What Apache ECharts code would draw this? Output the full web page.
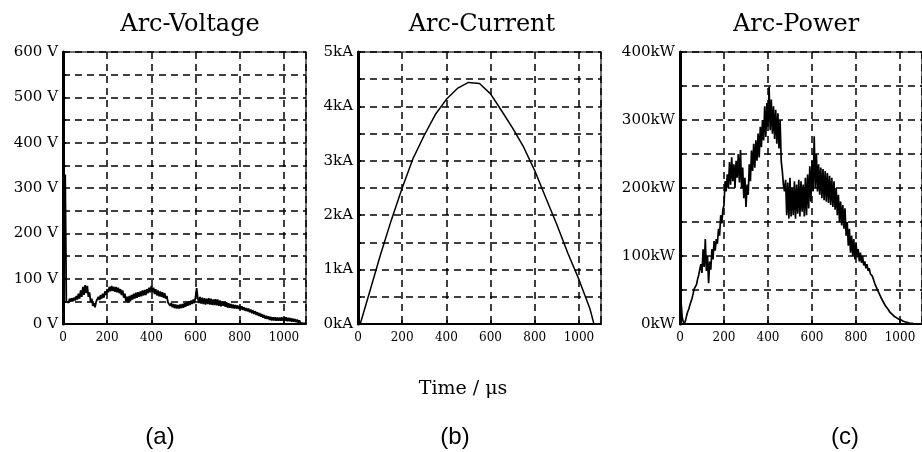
<!DOCTYPE html>
<html>
<head>
<meta charset="utf-8">
<script src="https://cdn.jsdelivr.net/npm/echarts@6/dist/echarts.min.js"></script>
<style>
  html, body { margin: 0; padding: 0; background: #fff; }
  #main { width: 922px; height: 452px; }
</style>
</head>
<body>
<div id="main"></div>
<script>
// sample spacing of the noisy traces (us)
var sampleStep = 5;

// Arc voltage (V), one value every 5 us from 0 to 1100 us
var voltage = [
  50, 200, 330, 50, 53, 47, 56, 49, 57, 50, 58, 52, 62, 54, 67, 56, 74, 60, 82, 64,
  86, 68, 84, 60, 70, 48, 56, 40, 46, 37, 49, 50, 60, 53, 64, 56, 67, 58, 72, 64,
  77, 70, 82, 72, 84, 73, 82, 71, 82, 70, 80, 68, 77, 64, 74, 58, 67, 50, 60, 48,
  62, 50, 64, 54, 67, 56, 69, 58, 70, 60, 72, 61, 74, 63, 75, 64, 77, 68, 80, 70,
  84, 70, 80, 66, 77, 63, 74, 61, 72, 60, 70, 58, 68, 56, 62, 48, 50, 40, 46, 37,
  44, 35, 43, 34, 42, 34, 43, 35, 44, 36, 46, 38, 49, 40, 50, 42, 52, 44, 54, 46,
  60, 79, 57, 46, 60, 45, 58, 44, 57, 43, 56, 44, 57, 43, 56, 42, 54, 42, 55, 41,
  54, 40, 52, 39, 50, 40, 49, 38, 48, 36, 46, 36, 44, 35, 43, 34, 42, 34, 41, 33,
  40, 32, 39, 31, 37, 29, 35, 28, 34, 26, 32, 24, 30, 22, 28, 20, 26, 18, 24, 16,
  22, 14, 20, 12, 18, 11, 17, 9, 16, 8, 15, 8, 15, 7, 14, 7, 14, 7, 15, 7,
  14, 7, 15, 6, 14, 6, 13, 5, 12, 5, 11, 4, 10, 3, 8, 2, 6, 2, 4, 1,
  3
];

// Arc current (kA) at read-off times (us)
var currentTime = [0, 10, 50, 100, 150, 200, 250, 300, 350, 400, 450, 500, 550, 600, 650, 700, 750, 800, 850, 900, 950, 1000, 1050, 1068, 1100];
var currentKA   = [0, 0, 0.55, 1.25, 1.9, 2.5, 3.05, 3.47, 3.85, 4.13, 4.33, 4.44, 4.42, 4.23, 3.92, 3.6, 3.25, 2.82, 2.32, 1.83, 1.3, 0.82, 0.28, 0, 0];

// Arc power (kW), one value every 5 us from 0 to 1100 us
var power = [
  0, 32, 10, 3, 0, 5, 12, 18, 22, 28, 33, 38, 45, 52, 50, 58, 66, 72, 70, 88,
  75, 110, 84, 125, 78, 100, 60, 92, 80, 110, 95, 122, 108, 125, 118, 140, 130, 160, 148, 168,
  175, 210, 195, 220, 200, 238, 205, 245, 210, 235, 200, 240, 215, 250, 208, 256, 200, 230, 185, 215,
  172, 205, 190, 235, 210, 255, 225, 265, 230, 270, 240, 280, 245, 290, 260, 300, 270, 320, 275, 325,
  290, 349, 285, 330, 280, 320, 272, 315, 265, 310, 258, 300, 240, 225, 205, 195, 212, 160, 208, 155,
  215, 158, 200, 160, 210, 155, 205, 162, 212, 158, 210, 165, 205, 158, 215, 160, 220, 170, 232, 180,
  240, 195, 276, 200, 250, 195, 235, 190, 230, 185, 228, 182, 225, 180, 222, 178, 218, 175, 215, 172,
  210, 168, 200, 160, 190, 150, 180, 145, 175, 140, 170, 130, 150, 115, 140, 105, 130, 100, 125, 95,
  120, 98, 110, 92, 105, 90, 100, 86, 92, 82, 88, 78, 82, 74, 76, 70, 68, 60, 62, 52,
  52, 45, 45, 38, 40, 32, 34, 26, 28, 22, 22, 17, 18, 14, 14, 11, 11, 9, 9, 7,
  8, 6, 6, 4, 5, 3, 4, 2, 3, 1, 2, 1, 1, 0, 0, 0, 0, 0, 0, 0,
  0
];

// tick labels
var timeTicks = ['0', '200', '400', '600', '800', '1000'];
var voltTicks = ['0 V', '100 V', '200 V', '300 V', '400 V', '500 V', '600 V'];
var currTicks = ['0kA', '1kA', '2kA', '3kA', '4kA', '5kA'];
var powTicks  = ['0kW', '100kW', '200kW', '300kW', '400kW'];

var titles = ['Arc-Voltage', 'Arc-Current', 'Arc-Power'];
var panelTags = ['(a)', '(b)', '(c)'];

function toPairs(vals) {
  var out = [];
  for (var i = 0; i < vals.length; i++) out.push([i * sampleStep, vals[i]]);
  return out;
}
function zip(xs, ys) {
  var out = [];
  for (var i = 0; i < xs.length; i++) out.push([xs[i], ys[i]]);
  return out;
}

var serif = 'DejaVu Serif';
var dash = [7, 5];

function makeX(idx) {
  return {
    type: 'value', gridIndex: idx, min: 0, max: 1100, interval: 200,
    axisLine: { lineStyle: { color: '#000', width: 2 } },
    axisTick: { inside: true, length: 4, lineStyle: { color: '#000', width: 1.5 } },
    axisLabel: {
      color: '#000', fontFamily: serif, fontSize: 12, margin: 8, showMaxLabel: false,
      formatter: function (v) { return v % 200 === 0 && v <= 1000 ? timeTicks[v / 200] : ''; }
    },
    splitLine: { show: true, lineStyle: { color: '#000', width: 1.5, type: dash } }
  };
}
function makeY(idx, max, step, labels, labelStep) {
  return {
    type: 'value', gridIndex: idx, min: 0, max: max, interval: step,
    axisLine: { show: true, lineStyle: { color: '#000', width: 3 } },
    axisTick: { show: true, inside: true, length: 3, lineStyle: { color: '#000', width: 2 } },
    axisLabel: {
      color: '#000', fontFamily: serif, fontSize: 15, margin: 5,
      formatter: function (v) {
        var k = v / labelStep;
        return Math.abs(k - Math.round(k)) < 1e-6 ? labels[Math.round(k)] : '';
      }
    },
    splitLine: { show: true, lineStyle: { color: '#000', width: 1.5, type: dash } }
  };
}
function lineSeries(idx, data, width) {
  return {
    type: 'line', xAxisIndex: idx, yAxisIndex: idx, data: data,
    showSymbol: false, smooth: false, animation: false,
    lineStyle: { color: '#000', width: width }
  };
}

var myChart = echarts.init(document.getElementById('main'), null, { renderer: 'canvas' });

var gridBase = { top: 52, height: 272, show: true, borderColor: '#444', borderWidth: 1.5, backgroundColor: '#fff' };
var titleFont = '24px "DejaVu Serif"';
var tagFont = '24px "Liberation Sans Narrow", "Liberation Sans", sans-serif';

var option = {
  backgroundColor: '#fff',
  animation: false,
  grid: [
    Object.assign({ left: 63, width: 243 }, gridBase),
    Object.assign({ left: 358, width: 243 }, gridBase),
    Object.assign({ left: 680, width: 245 }, gridBase)
  ],
  xAxis: [makeX(0), makeX(1), makeX(2)],
  yAxis: [
    makeY(0, 600, 50, voltTicks, 100),
    makeY(1, 5, 0.5, currTicks, 1),
    makeY(2, 400, 50, powTicks, 100)
  ],
  series: [
    lineSeries(0, toPairs(voltage), 1.8),
    lineSeries(1, zip(currentTime, currentKA), 1.5),
    lineSeries(2, toPairs(power), 1.7)
  ],
  graphic: [
    { type: 'text', x: 190, y: 25, style: { text: titles[0], font: titleFont, fill: '#000', align: 'center', verticalAlign: 'middle' } },
    { type: 'text', x: 482, y: 25, style: { text: titles[1], font: titleFont, fill: '#000', align: 'center', verticalAlign: 'middle' } },
    { type: 'text', x: 796, y: 25, style: { text: titles[2], font: titleFont, fill: '#000', align: 'center', verticalAlign: 'middle' } },
    { type: 'text', x: 463, y: 389, style: { text: 'Time / μs', font: '19px "DejaVu Serif"', fill: '#000', align: 'center', verticalAlign: 'middle' } },
    { type: 'text', x: 160, y: 437, style: { text: panelTags[0], font: tagFont, fill: '#000', align: 'center', verticalAlign: 'middle' } },
    { type: 'text', x: 455, y: 437, style: { text: panelTags[1], font: tagFont, fill: '#000', align: 'center', verticalAlign: 'middle' } },
    { type: 'text', x: 845, y: 437, style: { text: panelTags[2], font: tagFont, fill: '#000', align: 'center', verticalAlign: 'middle' } }
  ]
};
myChart.setOption(option);
</script>
</body>
</html>
